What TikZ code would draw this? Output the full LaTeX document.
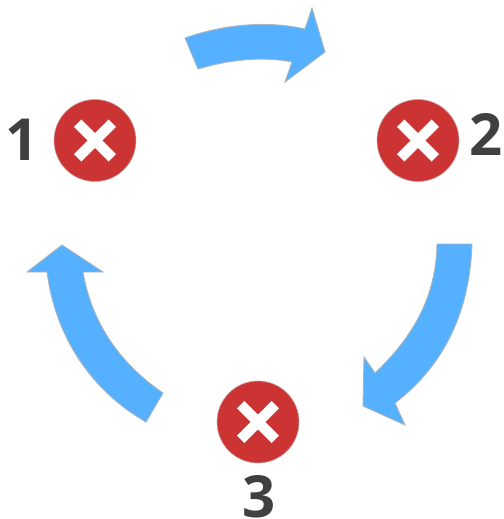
\documentclass[tikz,border=0pt]{standalone}
\usepackage{fontspec}
\setmainfont{Open Sans}
\definecolor{arrowblue}{HTML}{55B1FF}
\definecolor{arrowedge}{HTML}{A9B4BE}
\definecolor{stopred}{HTML}{CC3333}
\definecolor{stopedge}{HTML}{C9A0A0}
\definecolor{digitgrey}{HTML}{404040}
\tikzset{
  bluearrow/.style={fill=arrowblue,draw=arrowedge,line width=0.9pt,line join=miter},
  stopdisc/.style={circle,fill=stopred,draw=stopedge,line width=0.6pt,minimum size=82pt,inner sep=0pt},
  crossbar/.style={draw=white,line width=10.5pt,line cap=butt},
  digit/.style={font=\fontsize{58pt}{58pt}\selectfont\bfseries,text=digitgrey,inner sep=0pt}
}
\newcommand{\crossat}[1]{%
  \draw[crossbar] ([shift={(-17.3,-17.3)}]#1.center) -- ([shift={(17.3,17.3)}]#1.center);
  \draw[crossbar] ([shift={(-17.3,17.3)}]#1.center) -- ([shift={(17.3,-17.3)}]#1.center);
}
\begin{document}
\begin{tikzpicture}[x=1pt,y=-1pt]
\useasboundingbox (0,0) rectangle (503,519);
% arrow 1 -> 2
\draw[bluearrow] (185,38) .. controls (222,25) and (265,20) .. (305,29)
  -- (312,8) -- (325,52) -- (285,82) -- (292,62)
  .. controls (262,56) and (228,60) .. (198,69) -- cycle;
% arrow 2 -> 3
\draw[bluearrow] (437,244) -- (472,244)
  .. controls (470,310) and (445,365) .. (395,403)
  -- (405,425) -- (363,406) -- (364,357) -- (375,373)
  .. controls (415,335) and (436,295) .. (437,244) -- cycle;
% arrow 3 -> 1
\draw[bluearrow] (62,245) -- (103,272) -- (83,272)
  .. controls (92,325) and (122,365) .. (163,393)
  -- (146,422)
  .. controls (90,390) and (55,335) .. (47,272)
  -- (27,272) -- cycle;
% stops
\node[stopdisc] (n1) at (95,140.5) {};
\node[stopdisc] (n2) at (418,140.5) {};
\node[stopdisc] (n3) at (258,422) {};
\crossat{n1}
\crossat{n2}
\crossat{n3}
% labels
\node[digit] (l1) at (22,139.5) {1};
\node[digit] (l2) at (486.5,134.5) {2};
\node[digit] (l3) at (259.5,497) {3};
\end{tikzpicture}
\end{document}
